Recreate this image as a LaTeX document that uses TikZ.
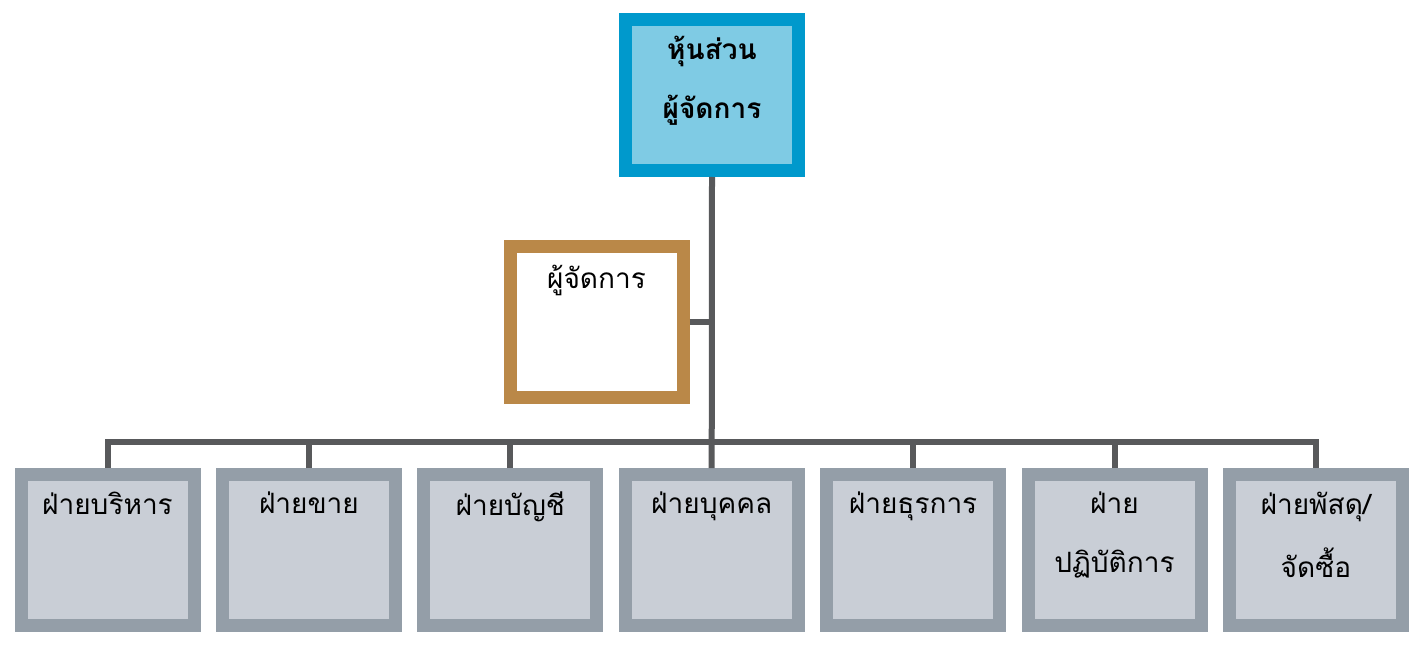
\documentclass[tikz,border=0pt]{standalone}
\usepackage{fontspec}
\newfontfamily\thaifont[Script=Thai]{Loma}
\definecolor{topborder}{HTML}{0099CC}
\definecolor{topfill}{HTML}{7FCBE4}
\definecolor{mgrborder}{HTML}{BA8848}
\definecolor{deptborder}{HTML}{949EA8}
\definecolor{deptfill}{HTML}{C9CED6}
\definecolor{conn}{HTML}{58595B}
\begin{document}
\begin{tikzpicture}[x=1pt,y=-1pt,
  box/.style={draw, line width=13pt, minimum width=173pt, minimum height=151pt, inner sep=0pt, outer sep=0.5\pgflinewidth},
  topbox/.style={box, draw=topborder, fill=topfill},
  mgrbox/.style={box, draw=mgrborder, fill=white},
  deptbox/.style={box, draw=deptborder, fill=deptfill},
  lbl/.style={font=\thaifont\fontsize{28}{34}\selectfont, align=center, anchor=north, inner sep=0pt},
  link/.style={draw=conn, line width=6pt, line join=miter}
]
\useasboundingbox (0,0) rectangle (1421,647);
\node[topbox] (top) at (712,95) {};
\node[lbl, font=\thaifont\bfseries\fontsize{28}{34}\selectfont] (toptext) at (712,36) {หุ้นส่วน\\[25pt]ผู้จัดการ};
\node[mgrbox] (mgr) at (596.5,322) {};
\node[lbl] (mgrtext) at (596.5,265) {ผู้จัดการ};
\foreach \i/\t in {1/{ฝ่ายบริหาร},2/{ฝ่ายขาย},3/{ฝ่ายบัญชี},4/{ฝ่ายบุคคล},5/{ฝ่ายธุรการ},6/{ฝ่าย\\[25pt]ปฏิบัติการ},7/{ฝ่ายพัสดุ/\\[25pt]จัดซื้อ}}{
  \node[deptbox] (b\i) at ({107.5+(\i-1)*201.4},550) {};
  \node[lbl] (t\i) at ({107.5+(\i-1)*201.4},492) {\t};
}
\coordinate (bus) at (712,442);
\draw[link] (top.south) -- (b4.north);
\draw[link] (mgr.east) -- (mgr.east -| top.south);
\draw[link] (b1.north) -- (b1.north |- bus) -- (b7.north |- bus) -- (b7.north);
\foreach \i in {2,3,5,6}{
  \draw[link] (b\i.north) -- (b\i.north |- bus);
}
\end{tikzpicture}
\end{document}
